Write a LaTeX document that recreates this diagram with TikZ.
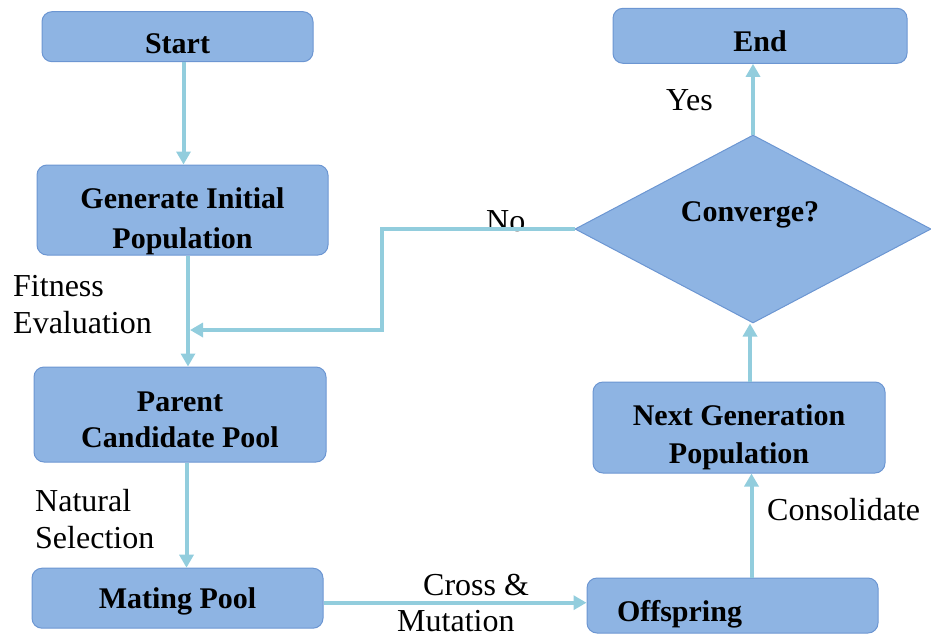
\documentclass[tikz,border=0pt]{standalone}
\usepackage{fontspec}
\setmainfont{Liberation Serif}
\usetikzlibrary{shapes.geometric,arrows.meta}
\definecolor{boxfill}{RGB}{142,180,227}
\definecolor{boxdraw}{RGB}{108,150,210}
\definecolor{flow}{RGB}{146,205,221}
% two centred / left-aligned lines, baseline = first line
\newcommand\ctwo[3]{\vtop{\baselineskip=#1\relax\halign{\hfil##\hfil\cr#2\cr#3\cr}}}
\newcommand\ltwo[3]{\vtop{\baselineskip=#1\relax\halign{##\hfil\cr#2\cr#3\cr}}}
\begin{document}
\begin{tikzpicture}[x=1pt,y=-1pt,
  box/.style={draw=boxdraw, line width=1pt, fill=boxfill, rounded corners=10pt,
    inner sep=0pt, font=\fontsize{30}{36}\selectfont\bfseries},
  decision/.style={diamond, aspect=1.9, draw=boxdraw, line width=1pt, fill=boxfill,
    inner sep=0pt, font=\fontsize{30}{36}\selectfont\bfseries},
  lab/.style={font=\fontsize{32}{36}\selectfont, inner sep=0pt},
  flowline/.style={draw=flow, line width=4pt},
  flowarrow/.style={flowline, -{Triangle[width=14pt,length=13pt]}}]
\useasboundingbox (0,0) rectangle (931,640);

% boxes
\node[box, minimum width=271pt, minimum height=50pt, text height=33pt, text depth=0pt] (start) at (177.5,36.7) {Start};
\node[box, minimum width=291pt, minimum height=90pt, text height=24pt, text depth=28pt] (gen) at (182.5,210) {\ctwo{40pt}{Generate Initial}{Population}};
\node[box, minimum width=292pt, minimum height=95pt, text height=24pt, text depth=29.6pt] (parent) at (180,414.5) {\ctwo{35.6pt}{Parent}{Candidate Pool}};
\node[box, minimum width=291pt, minimum height=60pt, text height=20pt, text depth=0pt] (mating) at (177.5,598.2) {Mating Pool};
\node[box, minimum width=291pt, minimum height=55pt, text height=31pt, text depth=0pt] (offspring) at (732.5,605.5) {Offspring\hspace*{106pt}};
\node[box, minimum width=292pt, minimum height=91pt, text height=24pt, text depth=29pt] (nextgen) at (739,427.5) {\ctwo{38pt}{Next Generation}{Population}};
\node[box, minimum width=294pt, minimum height=55pt, text height=32pt, text depth=0pt] (end) at (760,35.8) {End};
\node[decision, minimum width=356pt, minimum height=188pt, text height=20pt, text depth=34.6pt] (conv) at (753,229) {Converge?\hspace*{6pt}};

% labels
\node[lab, anchor=base west] (fit) at (13,296.7) {\ltwo{36.3pt}{Fitness}{Evaluation}};
\node[lab, anchor=base west] (nat) at (35,511.7) {\ltwo{36.6pt}{Natural}{Selection}};
\node[lab, anchor=base west] (cross) at (397,595.5) {\ltwo{36pt}{\hspace*{26pt}Cross \&}{Mutation}};
\node[lab, anchor=base west] (cons) at (767,520) {Consolidate};
\node[lab, anchor=base west] (yes) at (666,110) {Yes};
\node[lab, anchor=base west] (no) at (486,231) {No};

% helper coordinates
\coordinate (x1) at (183.5,0);
\coordinate (x2) at (188,0);
\coordinate (x3) at (186.5,0);
\coordinate (y4) at (0,602.7);
\coordinate (x5) at (751.5,0);
\coordinate (x6) at (750,0);
\coordinate (bend1) at (382,229);
\coordinate (bend2) at (382,330);
\coordinate (join) at (190,330);

% connectors
\draw[flowarrow] (start.south -| x1) -- (gen.north -| x1);
\draw[flowarrow] (gen.south -| x2) -- (parent.north -| x2);
\draw[flowarrow] (parent.south -| x3) -- (mating.north -| x3);
\draw[flowarrow] (mating.east |- y4) -- (offspring.west |- y4);
\draw[flowarrow] (offspring.north -| x5) -- (nextgen.south -| x5);
\draw[flowarrow] (nextgen.north -| x6) -- (conv.south -| x6);
\draw[flowarrow] (conv.north) -- (end.south -| conv.north);
\draw[flowarrow] (conv.west) -- (bend1) -- (bend2) -- (join);
\end{tikzpicture}
\end{document}
